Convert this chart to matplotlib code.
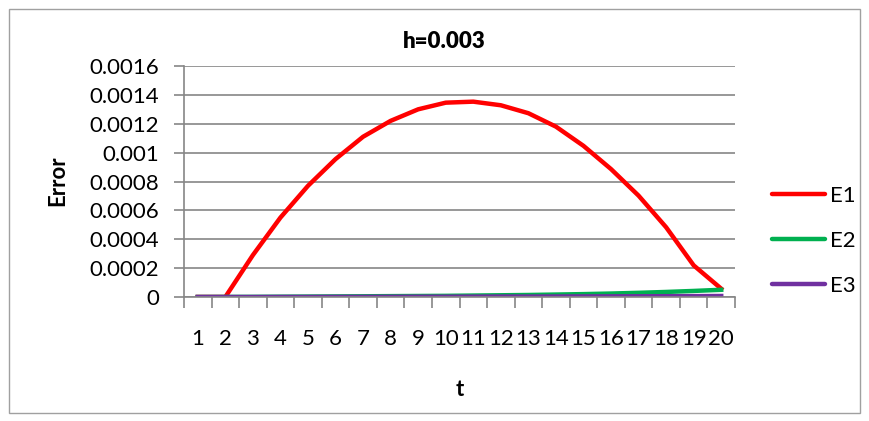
import numpy as np
import matplotlib.pyplot as plt
from matplotlib.patches import Rectangle

t = list(range(1, 21))
E1 = [0, 0, 0.00029, 0.00055, 0.00077, 0.000955, 0.00111, 0.00122, 0.0013, 0.001346,
      0.001353, 0.001328, 0.001273, 0.00118, 0.001047, 0.000886, 0.000702, 0.000483, 0.000219, 0.0000575]
E2 = [0, 0.0000005, 0.000001, 0.000002, 0.000003, 0.000004, 0.000005, 0.000006, 0.000007, 0.000008,
      0.00001, 0.000012, 0.000014, 0.000017, 0.00002, 0.000024, 0.000029, 0.000035, 0.000042, 0.00005]
E3 = [0, 0, 0, 0.0000005, 0.0000005, 0.000001, 0.000001, 0.0000015, 0.000002, 0.000002,
      0.0000025, 0.000003, 0.000003, 0.0000035, 0.000004, 0.0000045, 0.000005, 0.0000055, 0.000006, 0.000007]

plt.rcParams['font.family'] = ['Lato', 'DejaVu Sans']
grey = '#868686'

fig = plt.figure(figsize=(8.69, 4.21), dpi=100)
fig.patches.append(Rectangle((9/869, 8/421), 851/869, 404/421, transform=fig.transFigure,
                             fill=False, edgecolor='#a0a0a0', linewidth=1))
ax = fig.add_axes([184/869, 1 - 297/421, (735 - 184)/869, (297 - 66)/421])

ax.plot(t, E1, color='#ff0000', lw=3.2, label='E1')
ax.plot(t, E2, color='#00b050', lw=3.2, label='E2')
ax.plot(t, E3, color='#7030a0', lw=3.2, label='E3')

ax.set_xlim(0.5, 20.5)
ax.set_ylim(0, 0.0016)
yt = np.arange(0, 0.00161, 0.0002)
ax.set_yticks(yt)
ax.set_yticklabels(['0', '0.0002', '0.0004', '0.0006', '0.0008', '0.001', '0.0012', '0.0014', '0.0016'])
ax.set_xticks(t)
ax.set_xticks(np.arange(0.5, 21, 1), minor=True)
ax.tick_params(axis='x', which='major', length=0, pad=23, labelsize=16)
ax.tick_params(axis='x', which='minor', length=8, color=grey, width=1.2, direction='out')
ax.tick_params(axis='y', length=7, color=grey, width=1.2, labelsize=16, pad=11)
ax.grid(axis='y', color=grey, lw=1.2)
ax.set_axisbelow(True)
for s in ['top', 'right']:
    ax.spines[s].set_visible(False)
for s in ['left', 'bottom']:
    ax.spines[s].set_color(grey)
    ax.spines[s].set_linewidth(1.2)

fig.text(444/869, 1 - 42/421, 'h=0.003', ha='center', va='center', fontsize=16, fontweight='heavy')
fig.text(58/869, 1 - 181/421, 'Error', ha='center', va='center', rotation=90, fontsize=16, fontweight='bold')
fig.text(460/869, 1 - 390/421, 't', ha='center', va='center', fontsize=16, fontweight='bold')

leg = ax.legend(loc='center left', bbox_to_anchor=(772/869, 1 - 241/421), bbox_transform=fig.transFigure,
                frameon=False, fontsize=16, handlelength=2.4, handletextpad=0.2, labelspacing=1.12,
                borderaxespad=0, borderpad=0)
for line in leg.get_lines():
    line.set_solid_capstyle('round')

fig.savefig('out.png', dpi=100)
